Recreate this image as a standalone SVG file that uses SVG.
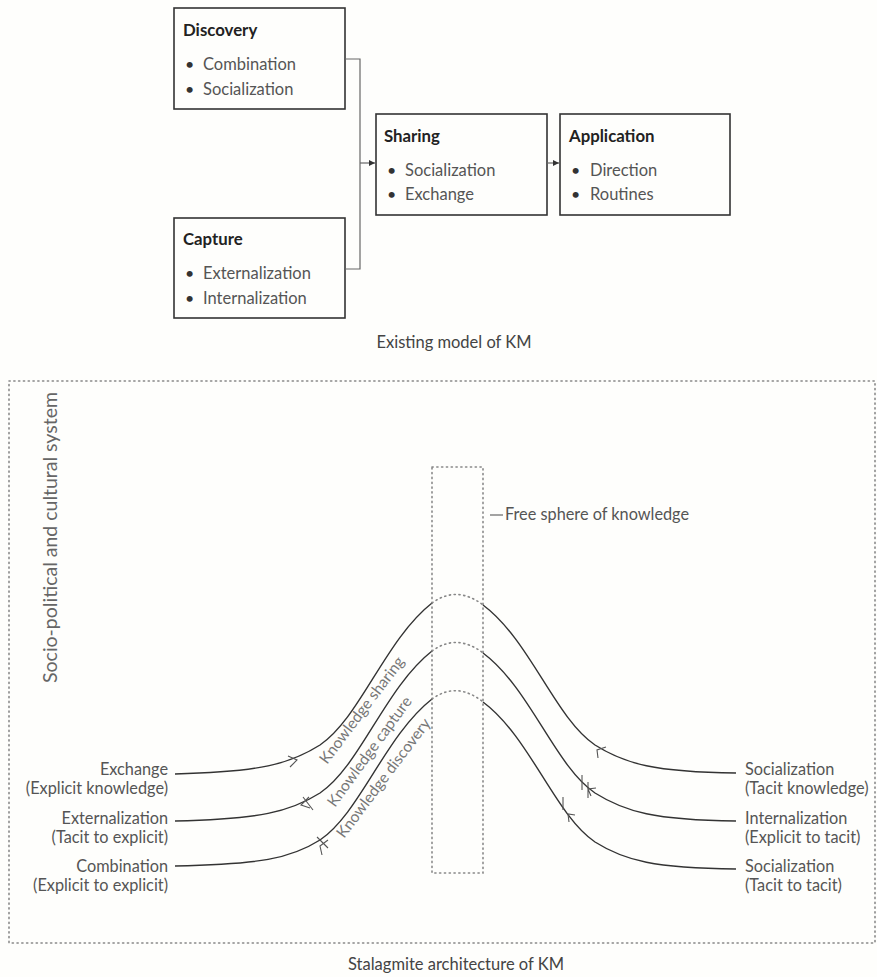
<svg xmlns="http://www.w3.org/2000/svg" width="877" height="977" viewBox="0 0 877 977">
  <defs>
    <style>
      text { font-family: Lato, "Open Sans", "Liberation Sans", sans-serif; }
      .box { fill: none; stroke: #333; stroke-width: 1.6; }
      .title { font-size: 16.8px; font-weight: bold; fill: #222; }
      .item { font-size: 16.5px; fill: #555; }
      .bul { font-size: 16px; fill: #333; }
      .cap { font-size: 16.5px; fill: #444; text-anchor: middle; }
      .lbl { font-size: 16.3px; fill: #555; }
      .lbl-end { font-size: 16.3px; fill: #555; text-anchor: end; }
      .side { font-size: 19.5px; fill: #666; }
      .curve-lbl { font-size: 15.5px; fill: #777; }
      .conn { fill: none; stroke: #666; stroke-width: 1.2; }
      .flow { fill: none; stroke: #333; stroke-width: 1.4; }
      .mark { fill: none; stroke: #555; stroke-width: 1.1; }
      .dots { fill: none; stroke: #888; stroke-width: 1.6; stroke-dasharray: 1.2 3.6; stroke-linecap: round; }
    </style>
    <marker id="tri" viewBox="0 0 6 6" refX="6" refY="3" markerWidth="6" markerHeight="6" orient="auto" markerUnits="userSpaceOnUse">
      <path d="M0,0 L6,3 L0,6 Z" fill="#333"/>
    </marker>
  </defs>

  <rect x="0" y="0" width="877" height="977" fill="#fefefc"/>

  <!-- existing model: process boxes -->
  <g id="discovery">
    <rect class="box" x="174" y="8" width="171" height="101"/>
    <text class="title" x="183" y="36">Discovery</text>
    <text class="bul" x="185" y="70">•</text>
    <text class="item" x="203" y="70">Combination</text>
    <text class="bul" x="185" y="95">•</text>
    <text class="item" x="203" y="95">Socialization</text>
  </g>

  <g id="capture">
    <rect class="box" x="174" y="218" width="171" height="100"/>
    <text class="title" x="183" y="245">Capture</text>
    <text class="bul" x="185" y="279">•</text>
    <text class="item" x="203" y="279">Externalization</text>
    <text class="bul" x="185" y="304">•</text>
    <text class="item" x="203" y="304">Internalization</text>
  </g>

  <g id="sharing">
    <rect class="box" x="376" y="114" width="171" height="101"/>
    <text class="title" x="384" y="142">Sharing</text>
    <text class="bul" x="387" y="176">•</text>
    <text class="item" x="405" y="176">Socialization</text>
    <text class="bul" x="387" y="200">•</text>
    <text class="item" x="405" y="200">Exchange</text>
  </g>

  <g id="application">
    <rect class="box" x="560" y="114" width="170" height="101"/>
    <text class="title" x="569" y="142">Application</text>
    <text class="bul" x="571" y="176">•</text>
    <text class="item" x="590" y="176">Direction</text>
    <text class="bul" x="571" y="200">•</text>
    <text class="item" x="590" y="200">Routines</text>
  </g>

  <g id="connectors">
    <path class="conn" d="M345,59 H360 V269 H345"/>
    <path class="conn" d="M360,163 H375" marker-end="url(#tri)"/>
    <path class="conn" d="M547,163 H559" marker-end="url(#tri)"/>
  </g>

  <text class="cap" x="454" y="348">Existing model of KM</text>

  <!-- stalagmite architecture -->
  <g id="system-frame">
    <rect class="dots" x="9" y="381" width="866" height="562"/>
    <text class="side" transform="translate(57,683) rotate(-90)">Socio-political and cultural system</text>
  </g>

  <g id="free-sphere">
    <rect class="dots" x="432" y="467" width="51" height="406"/>
    <line x1="490" y1="515" x2="503" y2="515" stroke="#666" stroke-width="1.2"/>
    <text class="lbl" x="505" y="520">Free sphere of knowledge</text>
  </g>

  <g id="flows">
    <!-- knowledge sharing -->
    <path class="flow" d="M175,774 C260,772 290,764 320,745 C360,718 385,640 432,603"/>
    <path class="dots" d="M432,603 Q457,585 483,605"/>
    <path class="flow" d="M483,605 C530,640 555,718 595,745 C625,764 655,772 736,773"/>
    <!-- knowledge capture -->
    <path class="flow" d="M175,821 C260,819 290,812 320,793 C360,766 385,688 432,651"/>
    <path class="dots" d="M432,651 Q457,633 483,653"/>
    <path class="flow" d="M483,653 C530,688 555,766 595,793 C625,812 655,820 736,821"/>
    <!-- knowledge discovery -->
    <path class="flow" d="M175,866 C260,864 290,859 320,840 C360,813 385,736 432,699"/>
    <path class="dots" d="M432,699 Q457,681 483,702"/>
    <path class="flow" d="M483,702 C530,737 555,815 595,842 C625,861 655,868 736,869"/>

    <!-- direction marks -->
    <path class="mark" d="M288,756 L297,760 L290,767"/>
    <path class="mark" d="M303,797 L313,810 M309,797 L301,805 L310,808"/>
    <path class="mark" d="M317,837 L328,848 M328,840 L320,846 L322,855"/>
    <path class="mark" d="M606,747 L597,750 L598,758"/>
    <path class="mark" d="M582,775 L582,790 M588,782 L588,798 M596,788 L588,789 L591,796"/>
    <path class="mark" d="M563,797 L563,810 M575,815 L568,814 L569,822"/>
  </g>

  <g id="flow-labels">
    <text class="curve-lbl" transform="translate(327,765) rotate(-53)">Knowledge sharing</text>
    <text class="curve-lbl" transform="translate(335,808) rotate(-54)">Knowledge capture</text>
    <text class="curve-lbl" transform="translate(344,839) rotate(-53)">Knowledge discovery</text>
  </g>

  <g id="left-labels">
    <text class="lbl-end" x="168" y="775">Exchange</text>
    <text class="lbl-end" x="168" y="794">(Explicit knowledge)</text>
    <text class="lbl-end" x="168" y="824">Externalization</text>
    <text class="lbl-end" x="168" y="843">(Tacit to explicit)</text>
    <text class="lbl-end" x="168" y="872">Combination</text>
    <text class="lbl-end" x="168" y="891">(Explicit to explicit)</text>
  </g>

  <g id="right-labels">
    <text class="lbl" x="745" y="775">Socialization</text>
    <text class="lbl" x="745" y="794">(Tacit knowledge)</text>
    <text class="lbl" x="745" y="824">Internalization</text>
    <text class="lbl" x="745" y="843">(Explicit to tacit)</text>
    <text class="lbl" x="745" y="872">Socialization</text>
    <text class="lbl" x="745" y="891">(Tacit to tacit)</text>
  </g>

  <text class="cap" x="456" y="970">Stalagmite architecture of KM</text>
</svg>
